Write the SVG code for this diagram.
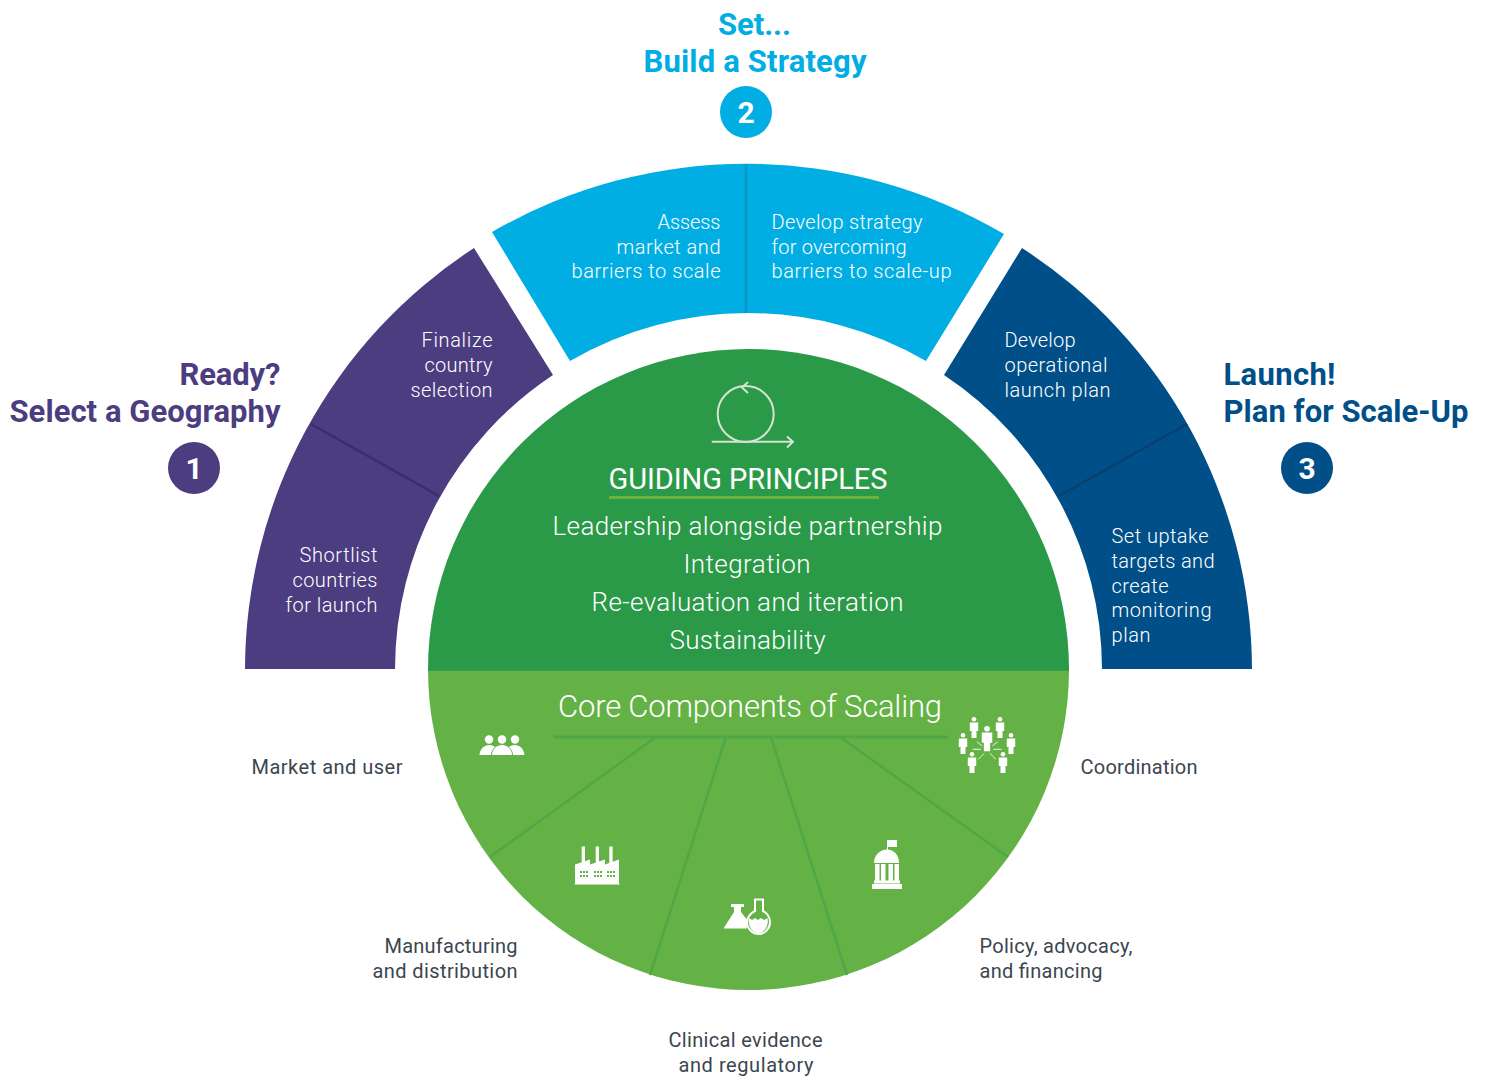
<svg xmlns="http://www.w3.org/2000/svg" width="1486" height="1076" viewBox="0 0 1486 1076">
<style>
text{font-family:"Roboto","Liberation Sans",sans-serif}
.b{font-size:20px;fill:#fff;font-weight:300}
.l{font-size:20px;fill:#3b4650}
.h{font-size:31px;font-weight:700}
.n{font-size:30px;font-weight:700;fill:#fff;text-anchor:middle}
.g{font-size:26px;fill:#fff;font-weight:300;text-anchor:middle}
.e{text-anchor:end}
.w{fill:#fff}
.gi{fill:#64b246}
.ar{stroke:#e9f3e2;stroke-width:1;fill:none}
</style>
<defs>
<g id="person"><circle cx="0" cy="2.2" r="2.3" class="w"/><path class="w" d="M-4.200 5.500H4.200V14H2.500V21H-2.500V14H-4.200Z"/></g>
</defs>
<rect width="1486" height="1076" fill="#fff"/>
<g id="step-1">
<path fill="#4c3c80" d="M474 248A503.500 503.500 0 0 0 245 669H395A353.500 353.500 0 0 1 553 375Z"/>
<text class="h" x="280.500" y="385" text-anchor="end" fill="#4c3c80" textLength="101">Ready?</text>
<text class="h" x="280.500" y="422" text-anchor="end" fill="#4c3c80" textLength="271">Select a Geography</text>
<circle cx="194" cy="468" r="26" fill="#4c3c80"/><text class="n" x="194" y="479">1</text>
<text class="b e" x="492.500" y="347" textLength="71">Finalize</text>
<text class="b e" x="492.500" y="372" textLength="68">country</text>
<text class="b e" x="492.500" y="397" textLength="82">selection</text>
<text class="b e" x="377.500" y="562" textLength="78">Shortlist</text>
<text class="b e" x="377.500" y="587" textLength="85">countries</text>
<text class="b e" x="377.500" y="612" textLength="92">for launch</text>
</g>
<g id="step-2">
<path fill="#00aee3" d="M492 232A508 508 0 0 1 1004 234L926 361A354.500 354.500 0 0 0 570 361Z"/>
<text class="h" x="754.500" y="35" text-anchor="middle" fill="#00aee3" textLength="73">Set...</text>
<text class="h" x="755" y="72" text-anchor="middle" fill="#00aee3" textLength="223">Build a Strategy</text>
<circle cx="746" cy="112" r="26" fill="#00aee3"/><text class="n" x="746" y="123">2</text>
<text class="b e" x="720.500" y="229" textLength="63">Assess</text>
<text class="b e" x="720.500" y="253.500" textLength="104">market and</text>
<text class="b e" x="720.500" y="278.300" textLength="149">barriers to scale</text>
<text class="b" x="771.500" y="229" textLength="151">Develop strategy</text>
<text class="b" x="771.500" y="253.500" textLength="135">for overcoming</text>
<text class="b" x="771.500" y="278.300" textLength="180">barriers to scale-up</text>
</g>
<g id="step-3">
<path fill="#004f88" d="M1022 248A503.500 503.500 0 0 1 1252 669H1102A353.500 353.500 0 0 0 944 375Z"/>
<text class="h" x="1223.500" y="385" fill="#004f88" textLength="112">Launch!</text>
<text class="h" x="1223.500" y="422" fill="#004f88" textLength="245">Plan for Scale-Up</text>
<circle cx="1307" cy="468" r="26" fill="#004f88"/><text class="n" x="1307" y="479">3</text>
<text class="b" x="1004.500" y="347" textLength="71">Develop</text>
<text class="b" x="1004.500" y="372" textLength="103">operational</text>
<text class="b" x="1004.500" y="397" textLength="106">launch plan</text>
<text class="b" x="1111.500" y="543" textLength="97">Set uptake</text>
<text class="b" x="1111.500" y="568" textLength="103">targets and</text>
<text class="b" x="1111.500" y="592.500" textLength="57">create</text>
<text class="b" x="1111.500" y="617" textLength="100">monitoring</text>
<text class="b" x="1111.500" y="642" textLength="39">plan</text>
</g>
<g id="core-components">
<path fill="#64b246" d="M428 669.500H1069A320.500 320.500 0 0 1 428 669.500Z"/>
<text x="750" y="716.500" font-size="31" font-weight="300" fill="#fff" text-anchor="middle" textLength="384">Core Components of Scaling</text>
</g>
<g id="guiding-principles">
<path fill="#2b9a48" d="M428 669.500A320.500 320.500 0 0 1 1069 669.500V670.700H428Z"/>
<g fill="none" stroke="#d5e3d0" stroke-width="2">
<circle cx="745.700" cy="414" r="28"/>
<path d="M748 382L742 387.500L748 393M711.700 441.700H793M787 436.500L793 441.700L787 447.500"/>
</g>
<text x="608.500" y="489" font-size="29" font-weight="400" fill="#fff" textLength="279">GUIDING PRINCIPLES</text>
<rect x="609" y="496" width="270" height="3" fill="#6ab43e"/>
<text class="g" x="747.500" y="535" textLength="390">Leadership alongside partnership</text>
<text class="g" x="747" y="573" textLength="127">Integration</text>
<text class="g" x="747.500" y="611" textLength="312">Re-evaluation and iteration</text>
<text class="g" x="747.500" y="649" textLength="156">Sustainability</text>
</g>
<g id="connectors" fill="none" stroke="#50a746">
<path stroke-width="3" d="M553 737H948"/>
<path stroke-width="2.500" d="M656 737L490 857M726 737L650 975M771 737L847 975M840 737L1008 857"/>
<path stroke="#0798c4" stroke-width="3" d="M746 164V313"/>
<path stroke="#3a2d6c" stroke-width="2.500" d="M311 424L439 496"/>
<path stroke="#0a4070" stroke-width="2.500" d="M1187 424L1059 496"/>
</g>
<g id="market-and-user">
<g class="w"><circle cx="489" cy="739.500" r="4.200"/><circle cx="502" cy="739.500" r="4.200"/><circle cx="515" cy="739.500" r="4.200"/>
<path d="M479.500 755C480 749 484 745 489.500 745C492 745 494 746 495 747C492.500 749 491 752 491 755Z"/>
<path d="M524.500 755C524 749 520 745 514.500 745C512 745 510 746 509 747C511.500 749 513 752 513 755Z"/>
<path d="M492 755C492 749 497 745 502 745C507 745 512 749 512 755Z"/></g>
<text class="l" x="251.500" y="774" textLength="151">Market and user</text>
</g>
<g id="manufacturing">
<path class="w" d="M575 883V864.500L590 859.500V864.500L605 859.500V864.500L619 859.500V883L620 884.500H574.500ZM581.700 864V846.500H585V863ZM595.700 864V846.500H599V863ZM609.300 864V846.500H612.600V863Z"/>
<g class="gi"><rect x="580" y="871" width="2" height="2"/><rect x="583" y="871" width="2" height="2"/><rect x="586" y="871" width="2" height="2"/><rect x="580" y="875" width="2" height="2"/><rect x="583" y="875" width="2" height="2"/><rect x="586" y="875" width="2" height="2"/>
<rect x="594" y="871" width="2" height="2"/><rect x="597" y="871" width="2" height="2"/><rect x="600" y="871" width="2" height="2"/><rect x="594" y="875" width="2" height="2"/><rect x="597" y="875" width="2" height="2"/><rect x="600" y="875" width="2" height="2"/>
<rect x="607" y="871" width="2" height="2"/><rect x="610" y="871" width="2" height="2"/><rect x="613" y="871" width="2" height="2"/><rect x="607" y="875" width="2" height="2"/><rect x="610" y="875" width="2" height="2"/><rect x="613" y="875" width="2" height="2"/></g>
<text class="l e" x="517.500" y="953.300" textLength="133">Manufacturing</text>
<text class="l e" x="517.500" y="978.300" textLength="145">and distribution</text>
</g>
<g id="clinical-evidence">
<path class="w" d="M731 904H744V907H741V912L748 921C746.500 924 746.500 926 747 928.500H723.500L734 912V907H731Z"/>
<path d="M755 899.500H763V911C767 913 770 917.500 770 922C770 928.500 765 934 759 934C752.500 934 747 928.500 747 922C747 917.500 750.500 913 755 911Z" fill="#64b246" stroke="#fff" stroke-width="2"/>
<path class="w" d="M749 918L752 920L755 918L758 920L761 918L764 920L767.500 918C769 925 765 933 758.500 933C752 933 747.500 925 749 918Z"/>
<text class="l" x="745.500" y="1047.300" text-anchor="middle" textLength="154">Clinical evidence</text>
<text class="l" x="746" y="1072.300" text-anchor="middle" textLength="135">and regulatory</text>
</g>
<g id="policy-advocacy">
<g class="w"><path d="M887 840H897V847H888V850H887Z"/>
<path d="M874 863C874 855 880 849.500 887 849.500C894 849.500 899 855 899 863Z"/>
<rect x="875" y="864" width="4.500" height="17"/><rect x="881" y="864" width="4.500" height="17"/><rect x="888.500" y="864" width="4.500" height="17"/><rect x="894.500" y="864" width="4.500" height="17"/>
<rect x="874" y="880.500" width="26" height="3"/><rect x="872" y="884" width="30" height="5"/></g>
<text class="l" x="979.500" y="953.300" textLength="153">Policy, advocacy,</text>
<text class="l" x="979.500" y="978.300" textLength="123">and financing</text>
</g>
<g id="coordination">
<use href="#person" x="974" y="717"/>
<use href="#person" x="1000" y="717"/>
<use href="#person" x="963" y="733"/>
<use href="#person" x="1011" y="733"/>
<use href="#person" x="972" y="752"/>
<use href="#person" x="1003" y="752"/>
<g transform="translate(987 726) scale(1.25 1.2)"><use href="#person"/></g>
<path class="ar" d="M977 741.700L982.300 746M997.700 741.700L992.300 746M972.700 749.300H981M993.300 749.300H1001.700M978.300 759.300L984.300 753.300M995.700 759.300L990 753.300"/>
<text class="l" x="1080.500" y="774" textLength="117">Coordination</text>
</g>
</svg>
